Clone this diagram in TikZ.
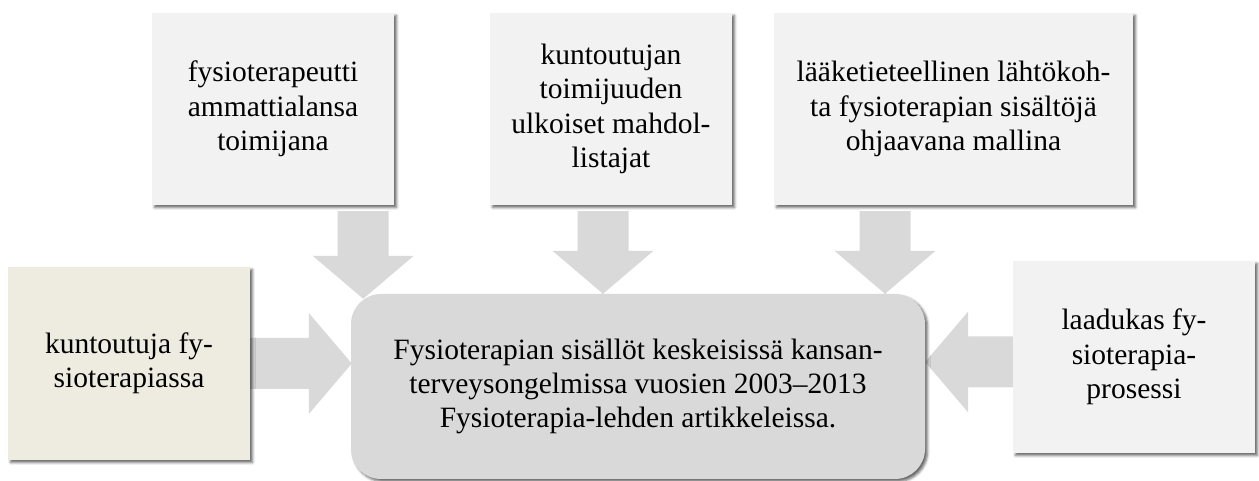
\documentclass[tikz,border=0pt]{standalone}
\usepackage{fontspec}
\setmainfont{Liberation Serif}
\usetikzlibrary{calc,shadows.blur,backgrounds}
\definecolor{boxgray}{HTML}{F2F2F2}
\definecolor{boxtan}{HTML}{EEECE1}
\definecolor{hubgray}{HTML}{D9D9D9}
\tikzset{
  txt/.style={font={\fontsize{29.5}{34.3}\selectfont}, align=center, text=black, inner sep=0pt},
  boxshadow/.style={blur shadow={shadow xshift=2.5pt, shadow yshift=-2.5pt, shadow blur radius=2.5pt, shadow opacity=60}},
  sbox/.style={txt, rectangle, fill=boxgray, minimum width=242pt, minimum height=192pt, boxshadow},
  hub/.style={txt, rectangle, rounded corners=30pt, fill=hubgray, minimum width=574pt, minimum height=185pt, boxshadow},
  arrowfill/.style={fill=hubgray},
}
\newcommand\blockarrow[2]{%
  \fill[arrowfill] let \p1=($(#2)-(#1)$), \n1={atan2(\y1,\x1)}, \n2={veclen(\x1,\y1)} in
    [shift={(#1)}, rotate=\n1] (0,-25.5) -- ({\n2-43},-25.5) -- ({\n2-43},-50.5) -- (\n2,0)
    -- ({\n2-43},50.5) -- ({\n2-43},25.5) -- (0,25.5) -- cycle;}
\begin{document}
\begin{tikzpicture}[x=1pt,y=1pt]
\useasboundingbox (0,0) rectangle (1259,481);
\node[sbox] (b1) at (273,372) {fysioterapeutti\\ammattialansa\\toimijana};
\node[sbox] (b2) at (611,372) {kuntoutujan\\toimijuuden\\ulkoiset mahdol-\\listajat};
\node[sbox, minimum width=359pt] (b3) at (953.5,372) {lääketieteellinen lähtökoh-\\ta fysioterapian sisältöjä\\ohjaavana mallina};
\node[sbox, fill=boxtan, minimum height=193pt] (l) at (129,117.5) {kuntoutuja fy-\\sioterapiassa};
\node[sbox] (r) at (1134,124) {laadukas fy-\\sioterapia-\\prosessi};
\node[hub] (c) at (638,94.5) {Fysioterapian sisällöt keskeisissä kansan-\\terveysongelmissa vuosien 2003–2013\\Fysioterapia-lehden artikkeleissa.};
\coordinate (a1s) at ($(b1.south east)+(-31,-6)$);
\coordinate (a1t) at ($(a1s |- c.north)+(0,-5)$);
\coordinate (a2s) at ($(b2.south)+(-8,-6)$);
\coordinate (a2t) at (a2s |- c.north);
\coordinate (a3s) at ($(b3.south)+(-68.5,-6)$);
\coordinate (a3t) at (a3s |- c.north);
\coordinate (ls) at (l.east);
\coordinate (lt) at ($(ls -| c.west)+(1,0)$);
\coordinate (rs) at ($(r.west)+(0,-5)$);
\coordinate (rt) at (rs -| c.east);
\begin{scope}[on background layer]
\blockarrow{a1s}{a1t}
\blockarrow{a2s}{a2t}
\blockarrow{a3s}{a3t}
\blockarrow{ls}{lt}
\blockarrow{rs}{rt}
\end{scope}
\end{tikzpicture}
\end{document}
